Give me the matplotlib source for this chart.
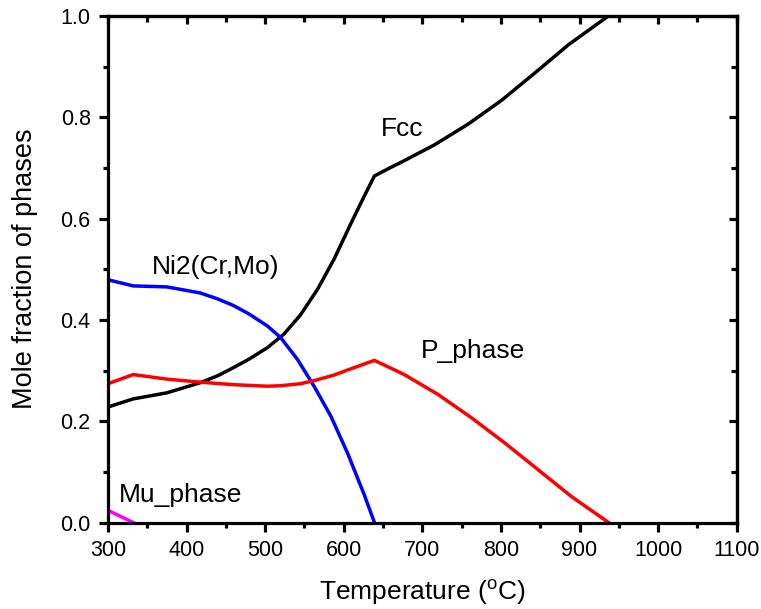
import matplotlib
matplotlib.use("Agg")
import matplotlib.pyplot as plt
from matplotlib.ticker import MultipleLocator

plt.rcParams['font.family'] = ['Liberation Sans', 'DejaVu Sans']
plt.rcParams['mathtext.fontset'] = 'custom'
plt.rcParams['mathtext.rm'] = 'Liberation Sans'

# phase fractions
fcc_t = [300, 332, 350, 375, 417.5, 440, 460, 480, 502.7, 523.9, 545, 566.5, 587.7, 609, 626, 639,
         660, 673, 715, 758, 800.6, 843, 886, 937, 950]
fcc_y = [0.228, 0.244, 0.249, 0.256, 0.276, 0.290, 0.306, 0.323, 0.345, 0.372, 0.410, 0.460, 0.520, 0.590, 0.644, 0.684,
         0.701, 0.711, 0.745, 0.786, 0.833, 0.887, 0.943, 1.0, 1.015]

ni2_t = [300, 332, 375, 417.5, 440, 460, 480, 502.7, 519.7, 541, 562.2, 583.5, 604.8, 626, 639]
ni2_y = [0.479, 0.467, 0.465, 0.453, 0.441, 0.428, 0.411, 0.388, 0.365, 0.322, 0.269, 0.210, 0.137, 0.055, 0.0]

p_t = [300, 332, 375, 417.5, 460, 502.7, 519.7, 545, 562.2, 587.7, 604.8, 639,
       677, 719.7, 762.3, 804.9, 847.5, 890, 937]
p_y = [0.274, 0.292, 0.283, 0.277, 0.272, 0.269, 0.270, 0.274, 0.280, 0.291, 0.301, 0.320,
       0.292, 0.253, 0.207, 0.157, 0.104, 0.051, 0.0]

mu_t = [300, 332]
mu_y = [0.024, 0.0]

fig = plt.figure(figsize=(7.61, 6.09), dpi=100)
ax = fig.add_axes([0.142, 0.142, 0.826, 0.832])

lw = 2.5
ax.plot(fcc_t, fcc_y, color='black', lw=lw)
ax.plot(ni2_t, ni2_y, color='#0000ff', lw=lw)
ax.plot(p_t, p_y, color='#ff0000', lw=lw)
ax.plot(mu_t, mu_y, color='#ff00ff', lw=lw)

ax.text(647, 0.777, 'Fcc', fontsize=19, va='center')
ax.text(356, 0.504, 'Ni2(Cr,Mo)', fontsize=19, va='center')
ax.text(698, 0.338, 'P_phase', fontsize=19, va='center')
ax.text(314, 0.055, 'Mu_phase', fontsize=19, va='center')

ax.set_xlim(300, 1100)
ax.set_ylim(0, 1.0)
ax.xaxis.set_major_locator(MultipleLocator(100))
ax.xaxis.set_minor_locator(MultipleLocator(50))
ax.yaxis.set_major_locator(MultipleLocator(0.2))
ax.yaxis.set_minor_locator(MultipleLocator(0.1))
ax.yaxis.set_major_formatter(plt.FormatStrFormatter('%.1f'))

for s in ax.spines.values():
    s.set_linewidth(2.3)

ax.tick_params(which='both', direction='out', width=2.3, labelsize=15.5,
               top=False, right=False, pad=6)
ax.tick_params(which='major', length=6.5)
ax.tick_params(which='minor', length=3.5)

# mirrored ticks on top and right pointing inward
axt = ax.secondary_xaxis('top')
axt.xaxis.set_major_locator(MultipleLocator(100))
axt.xaxis.set_minor_locator(MultipleLocator(50))
axt.tick_params(which='both', direction='in', width=2.3, labeltop=False)
axt.tick_params(which='major', length=6)
axt.tick_params(which='minor', length=4)
axr = ax.secondary_yaxis('right')
axr.yaxis.set_major_locator(MultipleLocator(0.2))
axr.yaxis.set_minor_locator(MultipleLocator(0.1))
axr.tick_params(which='both', direction='in', width=2.3, labelright=False)
axr.tick_params(which='major', length=6)
axr.tick_params(which='minor', length=4)
axt.spines['top'].set_linewidth(2.3)
axr.spines['right'].set_linewidth(2.3)

ax.set_xlabel(r'Temperature ($^{\rm o}$C)', fontsize=19, labelpad=12)
ax.set_ylabel('Mole fraction of phases', fontsize=19.5, labelpad=16)

fig.savefig('out.png', dpi=100)
